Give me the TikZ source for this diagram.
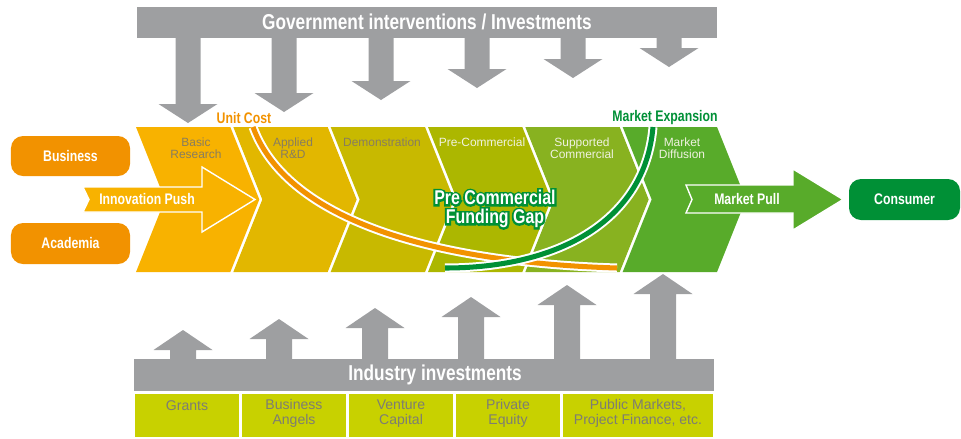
\documentclass[tikz,border=0pt]{standalone}
\usepackage{fontspec}
\setmainfont{Liberation Sans}
\newfontfamily\condf[FakeStretch=0.8]{Liberation Sans}
\newfontfamily\condhalo[FakeStretch=0.8, FakeBold=20]{Liberation Sans}
\definecolor{chA}{RGB}{248,178,0}
\definecolor{chB}{RGB}{226,183,0}
\definecolor{chC}{RGB}{200,185,0}
\definecolor{chD}{RGB}{172,183,0}
\definecolor{chE}{RGB}{136,178,32}
\definecolor{chF}{RGB}{88,171,42}
\definecolor{obox}{RGB}{242,146,0}
\definecolor{fgreen}{RGB}{0,144,54}
\definecolor{gray1}{RGB}{158,159,161}
\definecolor{fundc}{RGB}{200,209,0}
\definecolor{stdark}{RGB}{135,125,95}
\definecolor{stlight}{RGB}{240,242,225}
\definecolor{fundtxt}{RGB}{125,125,115}
\tikzset{
  lbl/.style={font=\condf\bfseries\fontsize{13.1}{14}\selectfont, text=white, inner sep=0pt},
  biglbl/.style={font=\condf\bfseries\fontsize{18.4}{20}\selectfont, text=white, inner sep=0pt},
  stage/.style={font=\fontsize{10.2}{10.3}\selectfont, align=center, inner sep=0pt},
  fundlbl/.style={font=\fontsize{12}{12.8}\selectfont, align=center, inner sep=0pt, text=fundtxt},
  rbox/.style={rounded corners=0.36cm, inner sep=0pt, font=\condf\bfseries\fontsize{13.1}{14}\selectfont, text=white},
  arrowshape/.style={draw=white, line width=1.2pt, line join=miter},
  gaptext/.style={align=center, inner sep=0pt},
}
\begin{document}
\begin{tikzpicture}[x=0.03cm, y=-0.03cm]
\useasboundingbox (0,0) rectangle (961,438);

% top bar and arrows
\fill[gray1] (137,7) rectangle (717,38);
\foreach \cx/\tp in {188/123,284/112,381/100,477/88,573/78,669/67}{
  \fill[gray1] (\cx-12.5,37) -- (\cx-12.5,\tp-19) -- (\cx-29.5,\tp-19) -- (\cx,\tp)
    -- (\cx+29.5,\tp-19) -- (\cx+12.5,\tp-19) -- (\cx+12.5,37) -- cycle;}
\node[biglbl] (gov) at (427,22) {Government interventions / Investments};

% bottom bar and arrows
\fill[gray1] (134,359) rectangle (714,391);
\foreach \cx/\tp in {183/330,279/319,375/308,471/297,567/285,663/274}{
  \fill[gray1] (\cx-13,360) -- (\cx-13,\tp+20) -- (\cx-29.5,\tp+20) -- (\cx,\tp)
    -- (\cx+29.5,\tp+20) -- (\cx+13,\tp+20) -- (\cx+13,360) -- cycle;}
\node[biglbl] (ind) at (435,375) {Industry investments};

% funding boxes
\fill[fundc] (135,394) rectangle (239,437);
\fill[fundc] (242,394) rectangle (346,437);
\fill[fundc] (349,394) rectangle (453,437);
\fill[fundc] (456,394) rectangle (560,437);
\fill[fundc] (563,394) rectangle (713,437);
\node[fundlbl] (grants) at (187,406) {Grants};
\node[fundlbl] (angels) at (294,413.5) {Business\\Angels};
\node[fundlbl] (vc) at (401,413.5) {Venture\\Capital};
\node[fundlbl] (pe) at (508,413.5) {Private\\Equity};
\node[fundlbl] (pm) at (638,413.5) {Public Markets,\\Project Finance, etc.};

% chevrons
\foreach \i/\c in {0/chA,1/chB,2/chC,3/chD,4/chE,5/chF}{
  \pgfmathsetmacro\L{136+97.333*\i}
  \pgfmathsetmacro\R{\L+94.333}
  \fill[\c] (\L,127) -- (\R,127) -- (\R+29,199.5) -- (\R,272) -- (\L,272) -- (\L+29,199.5) -- cycle;}

\node[stage, text=stdark] (basic) at (196,148) {Basic\\Research};
\node[stage, text=stdark] (applied) at (293,148) {Applied\\R\&D};
\node[stage, text=stdark] (demo) at (382,142) {Demonstration};
\node[stage, text=stlight] (precom) at (482,142) {Pre-Commercial};
\node[stage, text=stlight] (supp) at (582,148) {Supported\\Commercial};
\node[stage, text=stlight] (diff) at (682,148) {Market\\Diffusion};

% unit cost curve
\draw[white, line width=7.7pt] (253,127) .. controls (285,215) and (420,262) .. (617,268);
\draw[obox, line width=4.3pt] (253,127) .. controls (285,215) and (420,262) .. (617,268);
% market expansion curve
\draw[white, line width=7.7pt] (653,127) .. controls (645,220) and (560,268) .. (445,268);
\draw[fgreen, line width=4.3pt] (653,127) .. controls (645,220) and (560,268) .. (445,268);

\node[lbl, text=obox] (unitcost) at (244,118) {Unit Cost};
\node[lbl, text=fgreen] (mexp) at (665,118) {Market Expansion};

% pre-commercial funding gap: green halo under white text
\node[gaptext, font=\condhalo\bfseries\fontsize{17}{16.2}\selectfont, text=fgreen] (gaphalo) at (495,209)
  {Pre Commercial\\Funding Gap};
\node[gaptext, font=\condf\bfseries\fontsize{17}{16.2}\selectfont, text=white] (gap) at (gaphalo.center)
  {Pre Commercial\\Funding Gap};

% left boxes
\node[rbox, fill=obox, minimum width=3.57cm, minimum height=1.2cm] (business) at (70.5,156) {Business};
\node[rbox, fill=obox, minimum width=3.57cm, minimum height=1.23cm] (academia) at (70.5,243.5) {Academia};

% innovation push arrow
\filldraw[chA, arrowshape] (83,187) -- (202,187) -- (202,167) -- (255,199.5) -- (202,232) -- (202,212) -- (83,212) -- (89,199.5) -- cycle;
\node[lbl] (push) at (147,199.5) {Innovation Push};

% market pull arrow
\filldraw[chF, arrowshape] (686,185) -- (793,185) -- (793,169) -- (843,199.5) -- (793,230) -- (793,213) -- (686,213) -- (692,199.5) -- cycle;
\node[lbl] (pull) at (747,199.5) {Market Pull};

% consumer
\node[rbox, fill=fgreen, minimum width=3.33cm, minimum height=1.23cm] (consumer) at (904.5,199.5) {Consumer};
\end{tikzpicture}
\end{document}
